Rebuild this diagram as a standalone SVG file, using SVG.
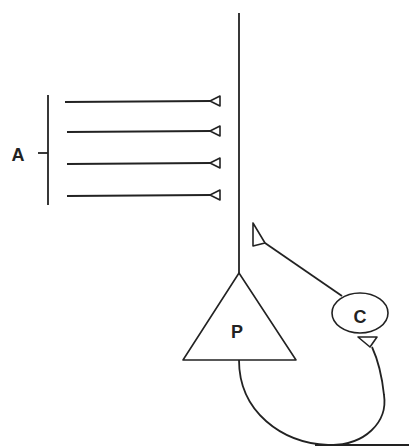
<svg xmlns="http://www.w3.org/2000/svg" width="409" height="447" viewBox="0 0 409 447">
<style>
.s{fill:none;stroke:#222;stroke-width:1.8;stroke-linejoin:round}
.w{fill:#fff;stroke:#222;stroke-width:1.6;stroke-linejoin:round}
.t{font-family:"Liberation Sans",Arial,sans-serif;font-weight:bold;font-size:18px;fill:#222;text-anchor:middle}
</style>
<rect width="409" height="447" fill="#fff"/>
<g id="connectors">
<line class="s" x1="239" y1="13" x2="239" y2="273"/>
<line class="s" x1="48" y1="95" x2="48" y2="205"/>
<line class="s" x1="38" y1="153" x2="48" y2="153"/>
<line class="s" x1="65" y1="102" x2="210" y2="101"/>
<line class="s" x1="67" y1="132" x2="210" y2="131"/>
<line class="s" x1="67" y1="164" x2="210" y2="163"/>
<line class="s" x1="67" y1="196" x2="210" y2="195"/>
<polygon class="w" points="210,101 220,96 220,106"/>
<polygon class="w" points="210,131 220,126 220,136"/>
<polygon class="w" points="210,163 220,158 220,168"/>
<polygon class="w" points="210,195 220,190 220,200"/>
<line class="s" x1="265" y1="243" x2="342" y2="296"/>
<polygon class="w" points="253,223 253,246 265,243"/>
<path class="s" d="M239,360 C239,412 282,443 328,445 C365,446 388,422 384,395 C382,376 378,360 372,347"/>
<line class="s" x1="315" y1="445" x2="409" y2="445"/>
<polygon class="w" points="358,337 377,337 370,347"/>
</g>
<g id="P">
<polygon class="w" points="239,273 183,360 296,360"/>
<text class="t" x="237" y="338">P</text>
</g>
<g id="C">
<ellipse class="w" cx="360" cy="313" rx="28" ry="20"/>
<text class="t" x="360" y="323">C</text>
</g>
<g id="A">
<text class="t" x="18" y="161">A</text>
</g>
</svg>
